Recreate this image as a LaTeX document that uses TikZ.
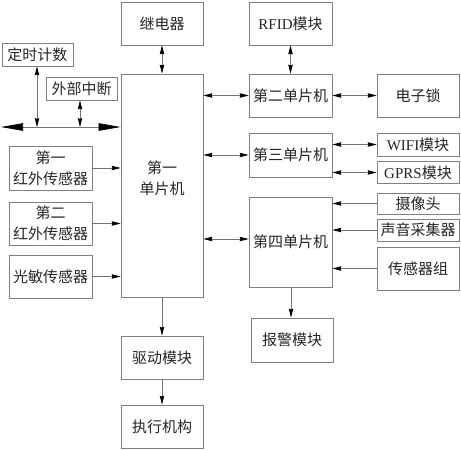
\documentclass[tikz,border=0pt]{standalone}
\usepackage{fontspec}
\setmainfont{Liberation Serif}
\newfontfamily\cjk{Noto Sans CJK SC}
\usetikzlibrary{arrows.meta}
\begin{document}
\begin{tikzpicture}[x=1pt,y=-1pt,
  box/.style={draw=black!50,line width=0.8pt,inner sep=0pt,align=center,text=black!85,
    font=\cjk\fontsize{15}{21}\selectfont},
  lbl/.style={inner sep=0pt,align=center,text=black!85,font=\cjk\fontsize{15}{21}\selectfont},
  conn/.style={draw=black!55,line width=0.7pt},
  one/.style={conn,-{Stealth[length=9pt,width=4.5pt,inset=1pt,color=black]}},
  two/.style={conn,{Stealth[length=9pt,width=4.5pt,inset=1pt,color=black]}-{Stealth[length=9pt,width=4.5pt,inset=1pt,color=black]}},
  bus/.style={conn,{Triangle[length=22pt,width=7.5pt,color=black]}-{Triangle[length=22pt,width=7.5pt,color=black]}}
]
\useasboundingbox (0,0) rectangle (461,450);
\fill[white] (0,0) rectangle (461,450);
% boxes
\node[box,minimum width=82pt,minimum height=43pt] (relay) at (162,23.5) {继电器};
\node[box,minimum width=83pt,minimum height=43pt] (rfid) at (290.5,23.5) {{\rmfamily RFID}模块};
\node[box,minimum width=71pt,minimum height=23pt] (timer) at (37.5,54.5) {定时计数};
\node[box,minimum width=71pt,minimum height=23pt] (ext) at (81.5,88.5) {外部中断};
\node[box,minimum width=82pt,minimum height=223pt] (mcu1) at (162,185.5) {};
\node[lbl] (mcu1t) at (162,178) {第一\\单片机};
\node[box,minimum width=83pt,minimum height=43pt] (mcu2) at (290.5,95.5) {第二单片机};
\node[box,minimum width=82pt,minimum height=43pt] (lock) at (418,95.5) {电子锁};
\node[box,minimum width=83pt,minimum height=44pt] (mcu3) at (290.5,155) {第三单片机};
\node[box,minimum width=82pt,minimum height=23pt] (wifi) at (418,144.5) {{\rmfamily WIFI}模块};
\node[box,minimum width=82pt,minimum height=22pt] (gprs) at (418,172.5) {{\rmfamily GPRS}模块};
\node[box,minimum width=83pt,minimum height=44pt] (ir1) at (50.5,168) {第一\\红外传感器};
\node[box,minimum width=83pt,minimum height=43pt] (ir2) at (50.5,223.5) {第二\\红外传感器};
\node[box,minimum width=83pt,minimum height=43pt] (light) at (50.5,276.5) {光敏传感器};
\node[box,minimum width=82pt,minimum height=21pt] (cam) at (418,203.5) {摄像头};
\node[box,minimum width=82pt,minimum height=22pt] (sound) at (418,230) {声音采集器};
\node[box,minimum width=82pt,minimum height=43pt] (sens) at (418,268.5) {传感器组};
\node[box,minimum width=83pt,minimum height=90pt] (mcu4) at (290.5,242) {第四单片机};
\node[box,minimum width=82pt,minimum height=44pt] (alarm) at (292,340) {报警模块};
\node[box,minimum width=82pt,minimum height=43pt] (drive) at (162,357.5) {驱动模块};
\node[box,minimum width=82pt,minimum height=43pt] (exec) at (162,426.5) {执行机构};
% bus
\coordinate (busL) at (1,127);
\coordinate (busR) at (mcu1.west |- busL);
\draw[bus] (busL) -- (busR);
\draw[two] (timer.south -| 37,0) -- (37,127);
\draw[two] (ext.south -| 80,0) -- (80,127);
% connectors
\draw[two] (relay) -- (mcu1);
\draw[two] (rfid) -- (mcu2);
\draw[two] (mcu1.east |- mcu2) -- (mcu2.west);
\draw[two] (mcu1.east |- mcu3) -- (mcu3.west);
\draw[two] (mcu1.east |- 0,239) -- (mcu4.west |- 0,239);
\draw[two] (mcu2) -- (lock);
\draw[two] (mcu3.east |- wifi) -- (wifi.west);
\draw[two] (mcu3.east |- gprs) -- (gprs.west);
\draw[one] (ir1.east) -- (ir1.east -| mcu1.west);
\draw[one] (ir2.east) -- (ir2.east -| mcu1.west);
\draw[one] (light.east) -- (light.east -| mcu1.west);
\draw[one] (cam.west) -- (cam.west -| mcu4.east);
\draw[one] (sound.west) -- (sound.west -| mcu4.east);
\draw[one] (sens.west) -- (sens.west -| mcu4.east);
\draw[one] (mcu4.south -| 291,0) -- (alarm.north -| 291,0);
\draw[one] (mcu1) -- (drive);
\draw[one] (drive) -- (exec);
\end{tikzpicture}
\end{document}
